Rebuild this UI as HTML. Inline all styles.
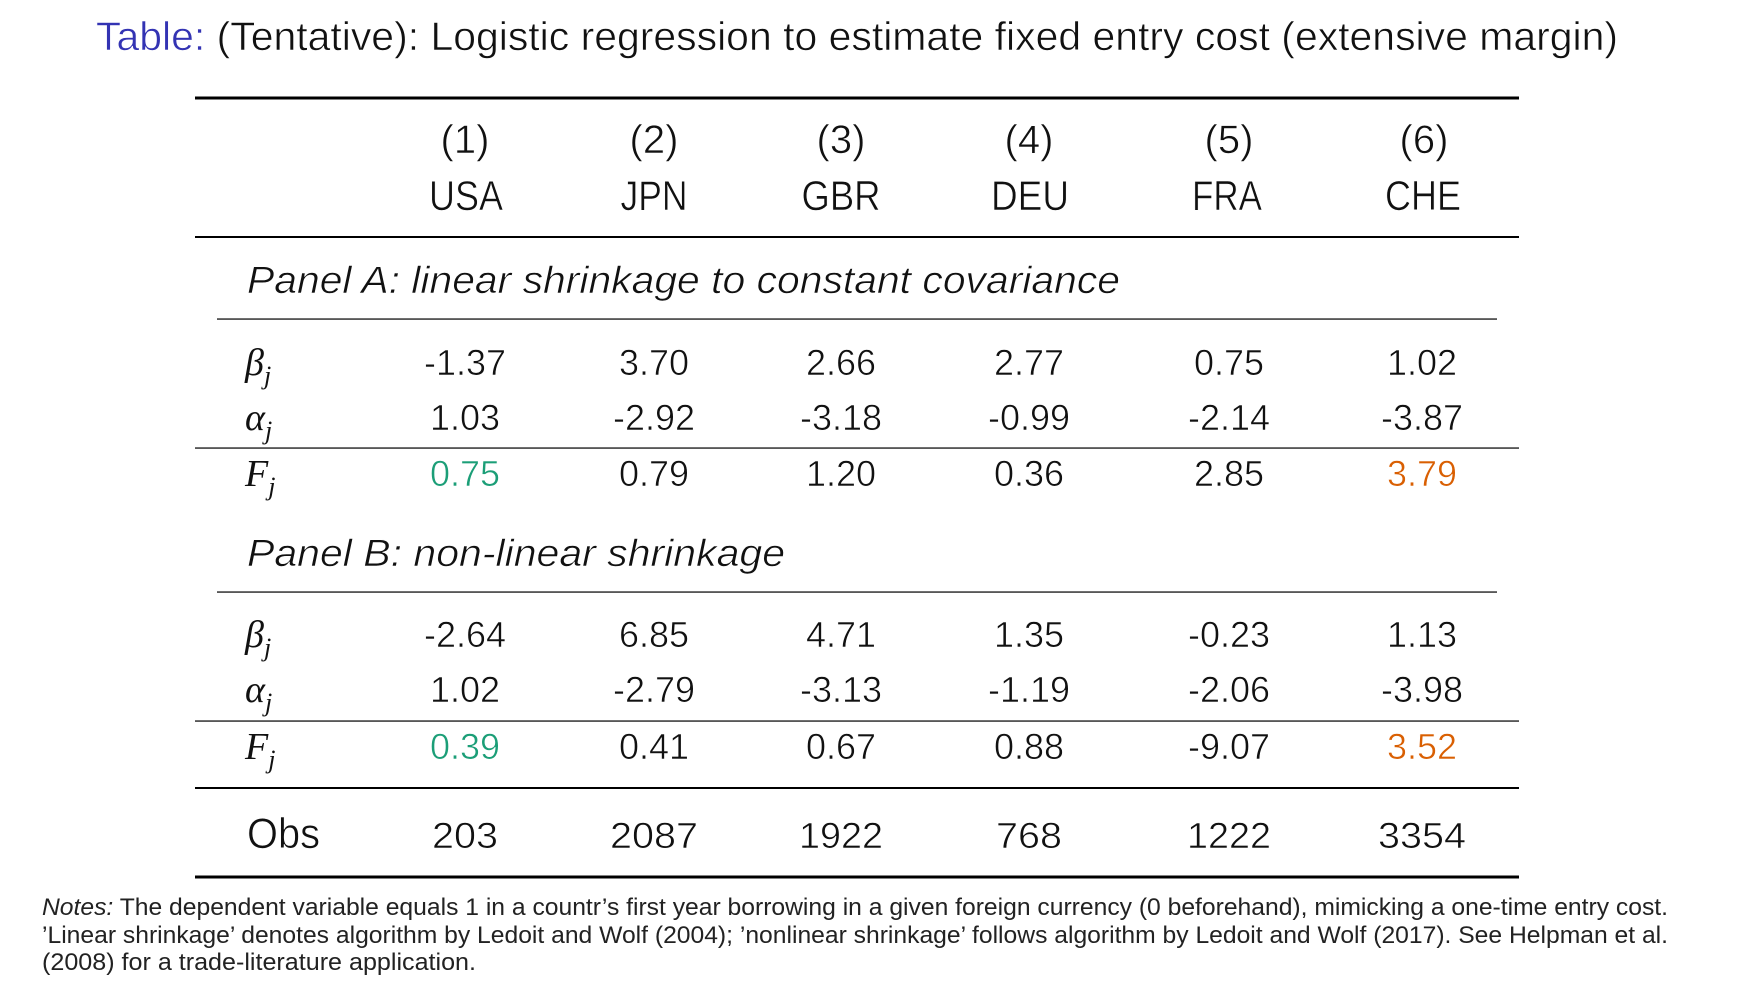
<!DOCTYPE html>
<html>
<head>
<meta charset="utf-8">
<style>
  html, body { margin: 0; padding: 0; background: #ffffff; }
  svg { display: block; }
  .t { font-family: "Liberation Sans", "DejaVu Sans", sans-serif; fill: #111; }
  .n { font-family: "Liberation Sans", "DejaVu Sans", sans-serif; fill: #111; font-size: 36px; text-anchor: middle; stroke: #fff; stroke-width: 0.6px; }
  .m { font-family: "Liberation Serif", "DejaVu Serif", serif; font-style: italic; fill: #111; font-size: 38px; }
  .g { fill: #1b9e77; }
  .o { fill: #d95f02; }
  .thin { stroke: #fff; stroke-width: 0.6px; }
</style>
</head>
<body>
<svg width="1752" height="981" viewBox="0 0 1752 981" xmlns="http://www.w3.org/2000/svg">
  <rect x="0" y="0" width="1752" height="981" fill="#ffffff"/>

  <!-- Title -->
  <text class="t thin" x="96" y="50" font-size="40" textLength="1522" lengthAdjust="spacingAndGlyphs"><tspan fill="#3333B3">Table:</tspan> (Tentative): Logistic regression to estimate fixed entry cost (extensive margin)</text>

  <!-- Rules -->
  <rect x="195" y="96.5" width="1324" height="3" fill="#000"/>
  <rect x="195" y="236" width="1324" height="2" fill="#000"/>
  <rect x="217" y="318.4" width="1280" height="1.3" fill="#111"/>
  <rect x="195" y="447.4" width="1324" height="1.3" fill="#111"/>
  <rect x="217" y="591.4" width="1280" height="1.3" fill="#111"/>
  <rect x="195" y="720.4" width="1324" height="1.3" fill="#111"/>
  <rect x="195" y="787" width="1324" height="2" fill="#000"/>
  <rect x="195" y="875.5" width="1324" height="3" fill="#000"/>

  <!-- Header -->
  <g class="t thin" font-size="40" text-anchor="middle">
    <text x="465" y="153">(1)</text>
    <text x="654" y="153">(2)</text>
    <text x="841" y="153">(3)</text>
    <text x="1029" y="153">(4)</text>
    <text x="1229" y="153">(5)</text>
    <text x="1424" y="153">(6)</text>
  </g>
  <g class="t thin" font-size="42" text-anchor="middle">
    <text x="466" y="210" textLength="74" lengthAdjust="spacingAndGlyphs">USA</text>
    <text x="654" y="210" textLength="67" lengthAdjust="spacingAndGlyphs">JPN</text>
    <text x="841" y="210" textLength="79" lengthAdjust="spacingAndGlyphs">GBR</text>
    <text x="1030" y="210" textLength="78" lengthAdjust="spacingAndGlyphs">DEU</text>
    <text x="1227" y="210" textLength="70" lengthAdjust="spacingAndGlyphs">FRA</text>
    <text x="1423" y="210" textLength="76" lengthAdjust="spacingAndGlyphs">CHE</text>
  </g>

  <!-- Panel A -->
  <text class="t thin" x="247" y="293" font-size="38" font-style="italic" textLength="873" lengthAdjust="spacingAndGlyphs">Panel A: linear shrinkage to constant covariance</text>

  <text class="m" x="245" y="375">β<tspan font-size="26" dy="9">j</tspan></text>
  <text class="n" x="465" y="375">-1.37</text>
  <text class="n" x="654" y="375">3.70</text>
  <text class="n" x="841" y="375">2.66</text>
  <text class="n" x="1029" y="375">2.77</text>
  <text class="n" x="1229" y="375">0.75</text>
  <text class="n" x="1422" y="375">1.02</text>

  <text class="m" x="245" y="430">α<tspan font-size="26" dy="9">j</tspan></text>
  <text class="n" x="465" y="430">1.03</text>
  <text class="n" x="654" y="430">-2.92</text>
  <text class="n" x="841" y="430">-3.18</text>
  <text class="n" x="1029" y="430">-0.99</text>
  <text class="n" x="1229" y="430">-2.14</text>
  <text class="n" x="1422" y="430">-3.87</text>

  <text class="m" x="245" y="486">F<tspan font-size="26" dy="9">j</tspan></text>
  <text class="n g" x="465" y="486">0.75</text>
  <text class="n" x="654" y="486">0.79</text>
  <text class="n" x="841" y="486">1.20</text>
  <text class="n" x="1029" y="486">0.36</text>
  <text class="n" x="1229" y="486">2.85</text>
  <text class="n o" x="1422" y="486">3.79</text>

  <!-- Panel B -->
  <text class="t thin" x="247" y="566" font-size="38" font-style="italic" textLength="538" lengthAdjust="spacingAndGlyphs">Panel B: non-linear shrinkage</text>

  <text class="m" x="245" y="647">β<tspan font-size="26" dy="9">j</tspan></text>
  <text class="n" x="465" y="647">-2.64</text>
  <text class="n" x="654" y="647">6.85</text>
  <text class="n" x="841" y="647">4.71</text>
  <text class="n" x="1029" y="647">1.35</text>
  <text class="n" x="1229" y="647">-0.23</text>
  <text class="n" x="1422" y="647">1.13</text>

  <text class="m" x="245" y="702">α<tspan font-size="26" dy="9">j</tspan></text>
  <text class="n" x="465" y="702">1.02</text>
  <text class="n" x="654" y="702">-2.79</text>
  <text class="n" x="841" y="702">-3.13</text>
  <text class="n" x="1029" y="702">-1.19</text>
  <text class="n" x="1229" y="702">-2.06</text>
  <text class="n" x="1422" y="702">-3.98</text>

  <text class="m" x="245" y="759">F<tspan font-size="26" dy="9">j</tspan></text>
  <text class="n g" x="465" y="759">0.39</text>
  <text class="n" x="654" y="759">0.41</text>
  <text class="n" x="841" y="759">0.67</text>
  <text class="n" x="1029" y="759">0.88</text>
  <text class="n" x="1229" y="759">-9.07</text>
  <text class="n o" x="1422" y="759">3.52</text>

  <!-- Obs -->
  <text class="t thin" x="247" y="848" font-size="43" textLength="73" lengthAdjust="spacingAndGlyphs">Obs</text>
  <text class="n" x="465" y="848" textLength="66" lengthAdjust="spacingAndGlyphs">203</text>
  <text class="n" x="654" y="848" textLength="88" lengthAdjust="spacingAndGlyphs">2087</text>
  <text class="n" x="841" y="848" textLength="84" lengthAdjust="spacingAndGlyphs">1922</text>
  <text class="n" x="1029" y="848" textLength="66" lengthAdjust="spacingAndGlyphs">768</text>
  <text class="n" x="1229" y="848" textLength="84" lengthAdjust="spacingAndGlyphs">1222</text>
  <text class="n" x="1422" y="848" textLength="88" lengthAdjust="spacingAndGlyphs">3354</text>

  <!-- Notes -->
  <g class="t" font-size="24">
    <text x="42" y="915" textLength="1626" lengthAdjust="spacingAndGlyphs" fill="#222"><tspan font-style="italic">Notes:</tspan> The dependent variable equals 1 in a countr’s first year borrowing in a given foreign currency (0 beforehand), mimicking a one-time entry cost.</text>
    <text x="42" y="943" textLength="1626" lengthAdjust="spacingAndGlyphs" fill="#222">’Linear shrinkage’ denotes algorithm by Ledoit and Wolf (2004); ’nonlinear shrinkage’ follows algorithm by Ledoit and Wolf (2017). See Helpman et al.</text>
    <text x="42" y="970" textLength="434" lengthAdjust="spacingAndGlyphs" fill="#222">(2008) for a trade-literature application.</text>
  </g>
</svg>
</body>
</html>
